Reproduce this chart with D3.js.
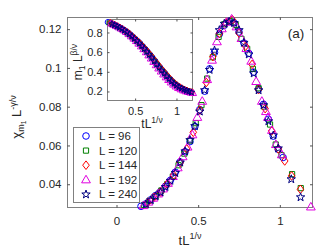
<!DOCTYPE html>
<html><head><meta charset="utf-8">
<script src="https://cdn.jsdelivr.net/npm/d3@7"></script>
<style>
body{margin:0;background:#fff}
svg{display:block}
text{font-family:"Liberation Sans",Arial,Helvetica,sans-serif;fill:#262626}
</style>
</head><body>
<svg id="c" width="319" height="250"></svg>
<script>
// ---------- data ----------
const seriesNames = ["L = 96", "L = 120", "L = 144", "L = 192", "L = 240"];

// main panel: chi_m1 L^{-gamma/nu} vs tL^{1/nu}
const mainX_L96 = [0.15,0.18,0.21,0.24,0.27,0.30,0.33,0.36,0.39,0.42,0.45,0.48,0.51,0.54,0.57,0.60,0.63,0.66,0.69,0.72,0.75,0.78,0.81,0.84,0.87,0.90,0.93,0.96,0.99,1.02];
const mainY_L96 = [0.0286,0.0299,0.0320,0.0342,0.0362,0.0390,0.0420,0.0462,0.0515,0.0568,0.0620,0.0698,0.0785,0.0880,0.0995,0.1080,0.1175,0.1220,0.1240,0.1232,0.1185,0.1128,0.1075,0.0978,0.0890,0.0812,0.0735,0.0648,0.0580,0.0538];

const mainX_L120 = [0.17,0.205,0.24,0.275,0.31,0.345,0.38,0.415,0.45,0.485,0.52,0.555,0.59,0.625,0.66,0.695,0.73,0.765,0.80,0.835,0.87,0.905,0.94,0.975,1.01,1.075,1.128];
const mainY_L120 = [0.0293,0.0316,0.0339,0.0368,0.0400,0.0440,0.0498,0.0558,0.0625,0.0715,0.0808,0.0945,0.1055,0.1160,0.1225,0.1242,0.1222,0.1150,0.1098,0.0995,0.0895,0.0800,0.0708,0.0605,0.0550,0.0452,0.0380];

const mainX_L144 = [0.19,0.23,0.27,0.31,0.35,0.39,0.43,0.47,0.51,0.55,0.59,0.63,0.67,0.71,0.75,0.79,0.83,0.87,0.91,0.95,0.99,1.03,1.072,1.126];
const mainY_L144 = [0.0305,0.0333,0.0360,0.0402,0.0447,0.0512,0.0582,0.0668,0.0782,0.0925,0.1058,0.1178,0.1232,0.1248,0.1180,0.1112,0.1018,0.0888,0.0790,0.0675,0.0582,0.0520,0.0443,0.0374];

const mainX_L192 = [0.165,0.195,0.225,0.255,0.285,0.315,0.345,0.375,0.405,0.435,0.465,0.495,0.525,0.555,0.585,0.615,0.645,0.675,0.705,0.735,0.765,0.795,0.825,0.855,0.89,0.915,0.927,0.952,0.976,1.012,1.19];
const mainY_L192 = [0.0290,0.0308,0.0328,0.0350,0.0376,0.0405,0.0440,0.0485,0.0542,0.0592,0.0655,0.0745,0.0828,0.0940,0.1040,0.1135,0.1202,0.1236,0.1252,0.1212,0.1152,0.1100,0.1035,0.0930,0.0828,0.0775,0.0745,0.0678,0.0605,0.0552,0.0283];

const mainX_L240 = [0.18,0.21,0.24,0.27,0.30,0.33,0.36,0.39,0.42,0.45,0.48,0.51,0.54,0.57,0.60,0.63,0.66,0.69,0.72,0.75,0.78,0.81,0.84,0.87,0.90,0.93,0.96,0.99,1.07,1.127];
const mainY_L240 = [0.0297,0.0318,0.0338,0.0358,0.0386,0.0418,0.0458,0.0512,0.0570,0.0628,0.0700,0.0775,0.0885,0.0990,0.1090,0.1195,0.1228,0.1238,0.1232,0.1195,0.1130,0.1070,0.0972,0.0885,0.0808,0.0725,0.0652,0.0585,0.0426,0.0333];

// inset: m1 L^{beta/nu} vs tL^{1/nu}
const insetX_L96 = [0.17,0.20,0.23,0.26,0.29,0.32,0.35,0.38,0.41,0.44,0.47,0.50,0.53,0.56,0.59,0.62,0.65,0.68,0.71,0.74,0.77,0.80,0.83,0.86,0.89,0.92,0.95,0.98,1.01,1.04,1.07,1.10,1.13,1.16];
const insetY_L96 = [0.905,0.897,0.886,0.874,0.862,0.849,0.835,0.819,0.801,0.781,0.759,0.737,0.714,0.690,0.662,0.634,0.606,0.576,0.545,0.512,0.478,0.447,0.416,0.387,0.357,0.329,0.303,0.280,0.260,0.243,0.229,0.217,0.207,0.198];

const insetX_L120 = [0.185,0.215,0.245,0.275,0.305,0.335,0.365,0.395,0.425,0.455,0.485,0.515,0.545,0.575,0.605,0.635,0.665,0.695,0.725,0.755,0.785,0.815,0.845,0.875,0.905,0.935,0.965,0.995,1.025,1.055,1.085,1.115,1.145,1.175];
const insetY_L120 = [0.895,0.886,0.875,0.863,0.850,0.836,0.821,0.803,0.784,0.762,0.741,0.718,0.695,0.668,0.641,0.613,0.584,0.554,0.522,0.489,0.456,0.425,0.396,0.366,0.336,0.310,0.287,0.265,0.247,0.232,0.220,0.210,0.201,0.193];

const insetX_L144 = [0.20,0.23,0.26,0.29,0.32,0.35,0.38,0.41,0.44,0.47,0.50,0.53,0.56,0.59,0.62,0.65,0.68,0.71,0.74,0.77,0.80,0.83,0.86,0.89,0.92,0.95,0.98,1.01,1.04,1.07,1.10,1.13,1.16,1.19];
const insetY_L144 = [0.898,0.888,0.876,0.864,0.850,0.836,0.820,0.802,0.782,0.760,0.738,0.715,0.690,0.664,0.636,0.607,0.578,0.547,0.515,0.482,0.450,0.420,0.390,0.361,0.332,0.306,0.283,0.263,0.246,0.232,0.219,0.209,0.200,0.193];

const insetX_L192 = [0.21,0.24,0.27,0.30,0.33,0.36,0.39,0.42,0.45,0.48,0.51,0.54,0.57,0.60,0.63,0.66,0.69,0.72,0.75,0.78,0.81,0.84,0.87,0.90,0.93,0.96,0.99,1.02,1.05,1.08,1.11,1.14,1.17,1.20];
const insetY_L192 = [0.890,0.878,0.866,0.852,0.838,0.822,0.804,0.783,0.760,0.737,0.712,0.686,0.658,0.629,0.598,0.566,0.534,0.500,0.466,0.433,0.402,0.372,0.343,0.316,0.291,0.269,0.250,0.234,0.221,0.210,0.201,0.194,0.188,0.183];

const insetX_L240 = [0.22,0.25,0.28,0.31,0.34,0.37,0.40,0.43,0.46,0.49,0.52,0.55,0.58,0.61,0.64,0.67,0.70,0.73,0.76,0.79,0.82,0.85,0.88,0.91,0.94,0.97,1.00,1.03,1.06,1.09,1.12,1.15,1.18];
const insetY_L240 = [0.886,0.875,0.863,0.850,0.836,0.820,0.802,0.782,0.760,0.737,0.714,0.689,0.662,0.634,0.604,0.574,0.543,0.510,0.476,0.444,0.413,0.384,0.355,0.328,0.303,0.280,0.261,0.245,0.231,0.219,0.208,0.199,0.191];

const mainXTicks = [0, 0.5, 1];
const mainXTickLabels = ["0", "0.5", "1"];
const mainYTicks = [0.04, 0.06, 0.08, 0.1, 0.12];
const mainYTickLabels = ["0.04", "0.06", "0.08", "0.1", "0.12"];
const insetXTicks = [0.5, 1];
const insetXTickLabels = ["0.5", "1"];
const insetYTicks = [0.2, 0.4, 0.6, 0.8];
const insetYTickLabels = ["0.2", "0.4", "0.6", "0.8"];

// ---------- styles ----------
const markerTypes = ["circle", "square", "diamond", "triangle", "star"];
const markerColors = ["#0000ff", "#008000", "#ff0000", "#e000e0", "#000080"];

function markerPath(type, k) {
  const p = d3.path();
  if (type === "circle") { const r = 3.3 * k; p.moveTo(r, 0); p.arc(0, 0, r, 0, 2 * Math.PI); }
  else if (type === "square") { const h = 2.6 * k; p.rect(-h, -h, 2 * h, 2 * h); }
  else if (type === "diamond") { const w = 3.3 * k, h = 4.3 * k; p.moveTo(0, -h); p.lineTo(w, 0); p.lineTo(0, h); p.lineTo(-w, 0); p.closePath(); }
  else if (type === "triangle") { const w = 4.4 * k, h = 7.6 * k; p.moveTo(0, -h * 0.6); p.lineTo(w, h * 0.4); p.lineTo(-w, h * 0.4); p.closePath(); }
  else if (type === "star") {
    const R = 4.4 * k, ri = R * 0.40;
    for (let i = 0; i < 10; i++) {
      const a = -Math.PI / 2 + i * Math.PI / 5, rr = i % 2 ? ri : R;
      const x = rr * Math.cos(a), y = rr * Math.sin(a);
      if (i === 0) p.moveTo(x, y); else p.lineTo(x, y);
    }
    p.closePath();
  }
  return p.toString();
}

const svg = d3.select("#c");
const axisColor = "#808080";

// ---------- main axes ----------
const L = 67.5, R = 312.5, T = 17.5, B = 207.5;
const x = d3.scaleLinear().domain([-0.3, 1.2]).range([L, R]);
const y = d3.scaleLinear().domain([0.028, 0.126]).range([B, T]);

const gMain = svg.append("g");
gMain.append("rect").attr("x", L).attr("y", T).attr("width", R - L).attr("height", B - T)
  .attr("fill", "#fff").attr("stroke", axisColor).attr("stroke-width", 1);

function styleAxis(g) {
  g.select(".domain").remove();
  g.selectAll(".tick line").attr("stroke", "#262626").attr("stroke-width", 0.8);
  g.selectAll(".tick text").attr("fill", "#262626").style("font-family", '"Liberation Sans",Arial,sans-serif');
}
const tl = 2.5;
gMain.append("g").attr("transform", `translate(0,${B})`)
  .call(d3.axisBottom(x).tickValues(mainXTicks).tickFormat((d, i) => mainXTickLabels[i]).tickSizeInner(-tl).tickSizeOuter(0).tickPadding(9))
  .call(styleAxis).call(g => g.selectAll(".tick text").attr("font-size", 11.5));
gMain.append("g").attr("transform", `translate(0,${T})`)
  .call(d3.axisTop(x).tickValues(mainXTicks).tickFormat("").tickSizeInner(-tl).tickSizeOuter(0))
  .call(styleAxis);
gMain.append("g").attr("transform", `translate(${L},0)`)
  .call(d3.axisLeft(y).tickValues(mainYTicks).tickFormat((d, i) => mainYTickLabels[i]).tickSizeInner(-tl).tickSizeOuter(0).tickPadding(6))
  .call(styleAxis).call(g => g.selectAll(".tick text").attr("font-size", 11.5));
gMain.append("g").attr("transform", `translate(${R},0)`)
  .call(d3.axisRight(y).tickValues(mainYTicks).tickFormat("").tickSizeInner(-tl).tickSizeOuter(0))
  .call(styleAxis);

const mainSeries = [
  [mainX_L96, mainY_L96], [mainX_L120, mainY_L120], [mainX_L144, mainY_L144],
  [mainX_L192, mainY_L192], [mainX_L240, mainY_L240]
];
mainSeries.forEach((s, i) => {
  const pts = s[0].map((v, j) => [v, s[1][j]]);
  gMain.append("g").selectAll("path").data(pts).join("path")
    .attr("d", markerPath(markerTypes[i], 1))
    .attr("transform", d => `translate(${x(d[0])},${y(d[1])})`)
    .attr("fill", "none").attr("stroke", markerColors[i]).attr("stroke-width", 1);
});

// axis labels
gMain.append("text").attr("x", (L + R) / 2).attr("y", 245).attr("text-anchor", "middle").attr("font-size", 13)
  .html('tL<tspan font-size="9" dy="-6">1/ν</tspan>');
gMain.append("text").attr("transform", "translate(21,117) rotate(-90)").attr("text-anchor", "middle").attr("font-size", 13)
  .html('χ<tspan font-size="9" dy="3">m</tspan><tspan font-size="6.5" dy="2">1</tspan><tspan font-size="13" dy="-5"> L</tspan><tspan font-size="9" dy="-5">-γ/ν</tspan>');

gMain.append("text").attr("x", 296).attr("y", 38).attr("text-anchor", "middle").attr("font-size", 13.5).text("(a)");

// ---------- legend ----------
const lg = svg.append("g");
lg.append("rect").attr("x", 73.5).attr("y", 127.5).attr("width", 66).attr("height", 75)
  .attr("fill", "#fff").attr("stroke", axisColor).attr("stroke-width", 1);
seriesNames.forEach((nm, i) => {
  const yy = 136 + i * 14.6;
  lg.append("path").attr("d", markerPath(markerTypes[i], 1)).attr("transform", `translate(86,${yy})`)
    .attr("fill", "none").attr("stroke", markerColors[i]).attr("stroke-width", 1);
  lg.append("text").attr("x", 99).attr("y", yy + 4).attr("font-size", 11.5).text(nm);
});

// ---------- inset ----------
const iL = 107.5, iR = 192.5, iT = 19.5, iB = 100.5;
const ix = d3.scaleLinear().domain([0.16, 1.2]).range([iL - 0.5, iR + 0.5]);
const iy = d3.scaleLinear().domain([0.108, 0.932]).range([iB, iT]);
const gIn = svg.append("g");
gIn.append("rect").attr("x", iL).attr("y", iT).attr("width", iR - iL).attr("height", iB - iT)
  .attr("fill", "#fff").attr("stroke", axisColor).attr("stroke-width", 1);
const itl = 2;
gIn.append("g").attr("transform", `translate(0,${iB})`)
  .call(d3.axisBottom(ix).tickValues(insetXTicks).tickFormat((d, i) => insetXTickLabels[i]).tickSizeInner(-itl).tickSizeOuter(0).tickPadding(7))
  .call(styleAxis).call(g => g.selectAll(".tick text").attr("font-size", 11));
gIn.append("g").attr("transform", `translate(0,${iT})`)
  .call(d3.axisTop(ix).tickValues(insetXTicks).tickFormat("").tickSizeInner(-itl).tickSizeOuter(0))
  .call(styleAxis);
gIn.append("g").attr("transform", `translate(${iL},0)`)
  .call(d3.axisLeft(iy).tickValues(insetYTicks).tickFormat((d, i) => insetYTickLabels[i]).tickSizeInner(-itl).tickSizeOuter(0).tickPadding(5))
  .call(styleAxis).call(g => g.selectAll(".tick text").attr("font-size", 11));
gIn.append("g").attr("transform", `translate(${iR},0)`)
  .call(d3.axisRight(iy).tickValues(insetYTicks).tickFormat("").tickSizeInner(-itl).tickSizeOuter(0))
  .call(styleAxis);

const insetSeries = [
  [insetX_L96, insetY_L96], [insetX_L120, insetY_L120], [insetX_L144, insetY_L144],
  [insetX_L192, insetY_L192], [insetX_L240, insetY_L240]
];
insetSeries.forEach((s, i) => {
  const pts = s[0].map((v, j) => [v, s[1][j]]);
  gIn.append("g").selectAll("path").data(pts).join("path")
    .attr("d", markerPath(markerTypes[i], 0.8))
    .attr("transform", d => `translate(${ix(d[0])},${iy(d[1])})`)
    .attr("fill", "none").attr("stroke", markerColors[i]).attr("stroke-width", 1);
});

gIn.append("text").attr("x", 152).attr("y", 128).attr("text-anchor", "middle").attr("font-size", 12)
  .html('tL<tspan font-size="8.5" dy="-5.5">1/ν</tspan>');
gIn.append("text").attr("transform", "translate(82,62) rotate(-90)").attr("text-anchor", "middle").attr("font-size", 12)
  .html('m<tspan font-size="8.5" dy="3">1</tspan><tspan font-size="12" dy="-3"> L</tspan><tspan font-size="8.5" dy="-5.5">β/ν</tspan>');
</script>
</body></html>
